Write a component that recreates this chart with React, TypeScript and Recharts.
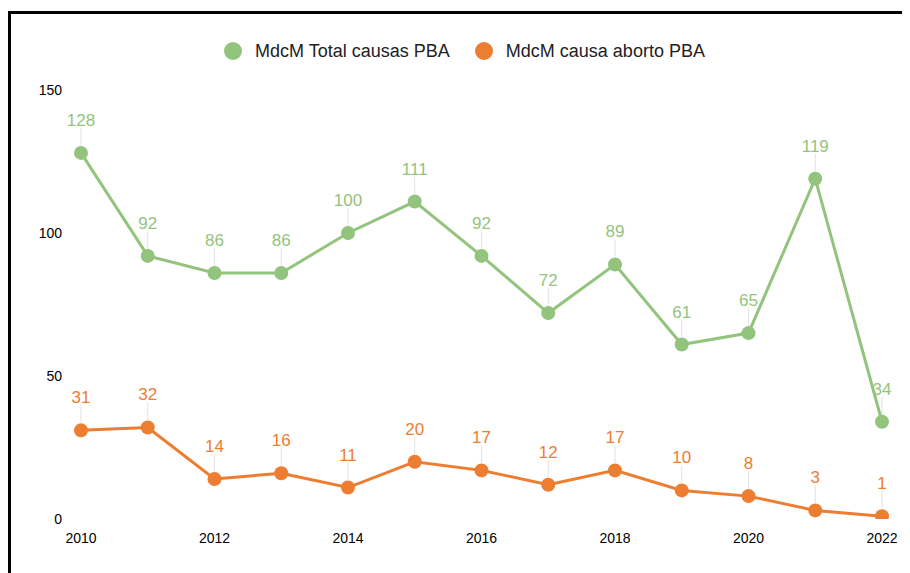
import { LineChart, Line, XAxis, YAxis, Legend, LabelList } from "recharts";

const years = [2010, 2011, 2012, 2013, 2014, 2015, 2016, 2017, 2018, 2019, 2020, 2021, 2022];
const totalCausas = [128, 92, 86, 86, 100, 111, 92, 72, 89, 61, 65, 119, 34];
const causaAborto = [31, 32, 14, 16, 11, 20, 17, 12, 17, 10, 8, 3, 1];
const xTicks = [2010, 2012, 2014, 2016, 2018, 2020, 2022];
const yTicks = [0, 50, 100, 150];

const SERIES = [
  { key: "total", name: "MdcM Total causas PBA", color: "#93c47d" },
  { key: "aborto", name: "MdcM causa aborto PBA", color: "#ed7d31" },
];

const data = years.map((year, i) => ({
  year,
  total: totalCausas[i],
  aborto: causaAborto[i],
}));

const FONT = '"Liberation Sans", Arial, sans-serif';

function PointLabel(props: any) {
  const { x, y, value, color } = props;
  return (
    <g>
      <line x1={x} x2={x} y1={y - 7} y2={y - 25} stroke="#e2e2e2" strokeWidth={1} />
      <text x={x} y={y - 27} textAnchor="middle" fill={color} fontSize={17} fontFamily={FONT}>
        {value}
      </text>
    </g>
  );
}

function LegendRow() {
  return (
    <div style={{ display: "flex", justifyContent: "center", gap: 25, height: 51, paddingLeft: 26, boxSizing: "border-box", alignItems: "flex-start", fontFamily: FONT }}>
      {SERIES.map((s) => (
        <div key={s.key} style={{ display: "flex", alignItems: "center", height: 24 }}>
          <span style={{ width: 18, height: 18, borderRadius: 9, background: s.color, marginRight: 13 }} />
          <span style={{ fontSize: 18, color: "#222" }}>{s.name}</span>
        </div>
      ))}
    </div>
  );
}

export default function App() {
  return (
    <div style={{ position: "relative", top: 3, width: 960, height: 600, border: "3px solid #000", boxSizing: "border-box" }}>
      <LineChart width={905} height={565} data={data} margin={{ top: 25, right: 24, left: 0, bottom: 30 }}>
        <Legend verticalAlign="top" align="center" content={<LegendRow />} />
        <XAxis
          dataKey="year"
          type="number"
          domain={[2010, 2022]}
          ticks={xTicks}
          padding={{ left: 10, right: 10 }}
          axisLine={false}
          tickLine={false}
          tickSize={0}
          tickMargin={14}
          height={30}
          tick={{ fill: "#000", fontSize: 14, fontFamily: FONT }}
        />
        <YAxis
          domain={[0, 150]}
          ticks={yTicks}
          allowDataOverflow
          axisLine={false}
          tickLine={false}
          tickSize={0}
          tickMargin={9}
          width={60}
          tick={{ fill: "#000", fontSize: 14, fontFamily: FONT }}
        />
        {SERIES.map((s) => (
          <Line
            key={s.key}
            dataKey={s.key}
            name={s.name}
            stroke={s.color}
            strokeWidth={3}
            dot={{ r: 7, fill: s.color, stroke: "none", strokeWidth: 0 }}
            activeDot={false}
            isAnimationActive={false}
          >
            <LabelList dataKey={s.key} content={<PointLabel color={s.color} />} />
          </Line>
        ))}
      </LineChart>
    </div>
  );
}
